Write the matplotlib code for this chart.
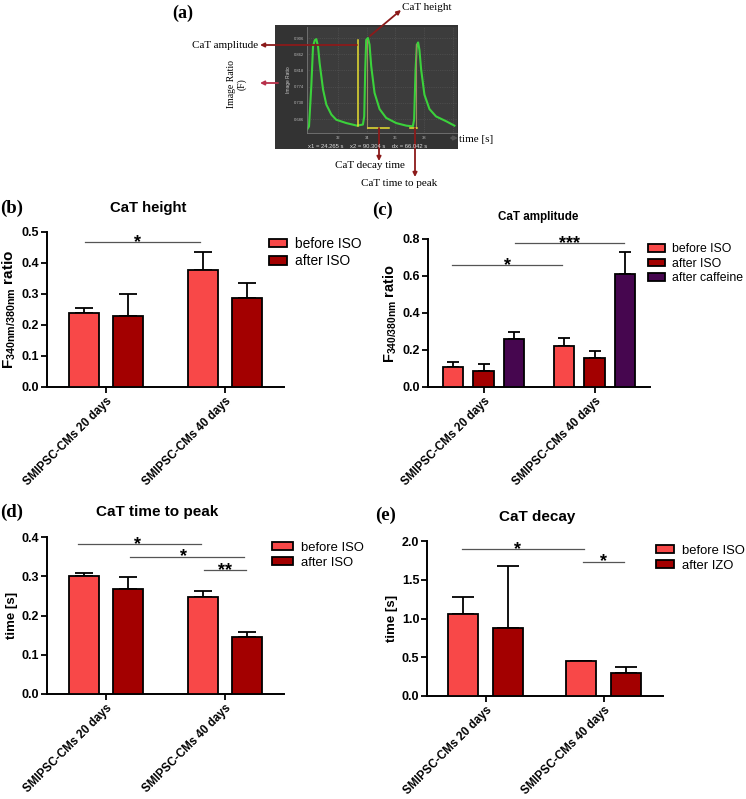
import matplotlib
matplotlib.use('Agg')
import matplotlib.pyplot as plt

plt.rcParams['font.family'] = ['Liberation Sans', 'DejaVu Sans']
plt.rcParams['mathtext.fontset'] = 'custom'
plt.rcParams['mathtext.rm'] = 'Liberation Sans'
plt.rcParams['mathtext.bf'] = 'Liberation Sans:bold'
plt.rcParams['mathtext.it'] = 'Liberation Sans:italic'

# ---------------- data ----------------
groups = ['SMIPSC-CMs 20 days', 'SMIPSC-CMs 40 days']

height_before = [0.239, 0.376]
height_before_err = [0.016, 0.061]
height_after = [0.230, 0.288]
height_after_err = [0.070, 0.049]

amp_before = [0.109, 0.221]
amp_before_err = [0.027, 0.043]
amp_after = [0.085, 0.156]
amp_after_err = [0.038, 0.039]
amp_caffeine = [0.257, 0.612]
amp_caffeine_err = [0.042, 0.119]

ttp_before = [0.300, 0.248]
ttp_before_err = [0.008, 0.014]
ttp_after = [0.268, 0.145]
ttp_after_err = [0.030, 0.012]

decay_before = [1.056, 0.453]
decay_before_err = [0.219, 0.0]
decay_after = [0.880, 0.302]
decay_after_err = [0.794, 0.077]

# calcium transient trace (panel a), time [s] and image ratio
trace_t = [29.84, 29.98, 30.14, 30.26, 30.38, 30.49, 30.61, 30.72, 30.96, 31.19,
           31.54, 31.88, 32.58, 33.32, 33.74, 33.83, 33.90, 33.97, 34.09, 34.20,
           34.32, 34.55, 34.90, 35.36, 36.06, 36.76, 37.22, 37.31, 37.41, 37.50,
           37.59, 37.68, 37.80, 38.03, 38.38, 38.84, 39.54, 40.12]
trace_v = [0.657, 0.666, 0.775, 0.883, 0.900, 0.903, 0.883, 0.838, 0.766, 0.725,
           0.698, 0.684, 0.675, 0.668, 0.671, 0.693, 0.820, 0.901, 0.906, 0.888,
           0.829, 0.757, 0.713, 0.689, 0.675, 0.668, 0.666, 0.684, 0.820, 0.888,
           0.894, 0.874, 0.820, 0.752, 0.713, 0.693, 0.680, 0.668]
trace_yticks = [0.686, 0.730, 0.774, 0.818, 0.862, 0.906]
trace_xticks = [32, 34, 36, 38, 40]

C_BEFORE = '#F84848'
C_AFTER = '#A30000'
C_CAF = '#46064F'

W, H = 746, 799
fig = plt.figure(figsize=(W / 100, H / 100), dpi=100)


def box(x0, y0, x1, y1):
    return [x0 / W, 1 - y1 / H, (x1 - x0) / W, (y1 - y0) / H]


def fpx(x, y):
    return (x, H - y)


# ---------------- panel (a) ----------------
bg = fig.add_axes(box(275, 25, 458, 149))
bg.set_facecolor('#333333')
bg.set_xticks([]); bg.set_yticks([])
for s in bg.spines.values():
    s.set_visible(False)

axa = fig.add_axes(box(307, 27, 457, 133))
axa.set_facecolor('#3c3c3c')
axa.plot(trace_t, trace_v, color='#3BD13B', lw=1.5)
axa.plot([33.37, 33.37], [0.900, 0.666], color='#E8E030', lw=1.1)
axa.plot([34.04, 34.04], [0.900, 0.662], color='#9a8a60', lw=0.8)
axa.plot([37.45, 37.45], [0.890, 0.662], color='#9a8a60', lw=0.8)
axa.plot([34.09, 35.55], [0.662, 0.662], color='#E8E030', lw=1.1)
axa.plot([36.99, 37.52], [0.662, 0.662], color='#E8E030', lw=1.1)
axa.set_xlim(29.84, 40.3)
axa.set_ylim(0.648, 0.936)
axa.set_xticks(trace_xticks)
axa.set_yticks(trace_yticks)
axa.set_xticklabels([str(t) for t in trace_xticks])
axa.set_yticklabels([f'{t:.3f}' for t in trace_yticks])
axa.tick_params(length=0, labelsize=3, labelcolor='#bbbbbb', pad=2)
axa.grid(True, color='#5a5a5a', lw=0.5, ls=':')
for s in axa.spines.values():
    s.set_color('#777777'); s.set_linewidth(0.6)
axa.spines['top'].set_visible(False)
axa.spines['right'].set_visible(False)
axa.set_ylabel('Image Ratio', fontsize=3.5, color='#cccccc', labelpad=2)
fig.text(308 / W, 1 - 146 / H, 'x1 = 24.265 s    x2 = 90.304 s    dx = 66.042 s',
         fontsize=4.2, color='#dddddd', va='center')

serif = ['Liberation Serif', 'DejaVu Serif']
fig.text(172 / W, 1 - 13 / H, '(a)', family=serif, fontsize=13, fontweight='bold', va='center')
fig.text(402 / W, 1 - 8 / H, 'CaT height', family=serif, fontsize=8, va='center')
fig.text(258 / W, 1 - 45 / H, 'CaT amplitude', family=serif, fontsize=8, va='center', ha='right')
fig.text(237 / W, 1 - 84 / H, 'Image Ratio\n(F)', family=serif, fontsize=7, va='center',
         ha='center', rotation=90, multialignment='center')
fig.text(459 / W, 1 - 139 / H, 'time [s]', family=serif, fontsize=8, va='center')
fig.text(370 / W, 1 - 166 / H, 'CaT decay time', family=serif, fontsize=8, va='center', ha='center')
fig.text(399 / W, 1 - 184 / H, 'CaT time to peak', family=serif, fontsize=8, va='center', ha='center')

arrows = [((357, 45), (260, 45), '#8B1A1A'),
          ((370, 36), (401, 10), '#8B1A1A'),
          ((278, 83), (260, 83), '#B8304A'),
          ((379, 128), (379, 161), '#8B1A1A'),
          ((415, 128), (415, 177), '#8B1A1A'),
          ((451, 138), (458, 138), '#555555')]
for tail, head, col in arrows:
    fig.add_artist(matplotlib.patches.FancyArrowPatch(
        posA=fpx(*tail), posB=fpx(*head), transform=None,
        arrowstyle='-|>', mutation_scale=6, color=col, lw=1.3,
        shrinkA=0, shrinkB=0))


# ---------------- bar panels ----------------
def bar_panel(rect, series, errs, colors, labels, offsets, width, ylim, yticks,
              ylabel, ylabel_size, legend_anchor, leg_size, leg_hl, leg_hh, leg_sp, cap):
    ax = fig.add_axes(box(*rect))
    for vals, er, col, lab, off in zip(series, errs, colors, labels, offsets):
        xs = [g + off for g in range(len(groups))]
        ax.bar(xs, vals, width, color=col, edgecolor='black', linewidth=1.3,
               label=lab, zorder=3)
        ax.errorbar(xs, vals, yerr=[[0] * len(er), er], fmt='none', ecolor='black',
                    elinewidth=1.3, capsize=cap, capthick=1.3, zorder=2)
    ax.set_xlim(-0.5, 1.5)
    ax.set_ylim(*ylim)
    ax.set_yticks(yticks)
    ax.set_yticklabels([f'{t:.1f}' for t in yticks], fontweight='bold', fontsize=9)
    ax.set_xticks(range(len(groups)))
    ax.set_xticklabels(groups, rotation=45, ha='right', va='top', rotation_mode='anchor',
                       fontweight='bold', fontsize=8.4)
    for sp in ['top', 'right']:
        ax.spines[sp].set_visible(False)
    for sp in ['left', 'bottom']:
        ax.spines[sp].set_linewidth(1.4)
    ax.tick_params(width=1.3, length=4, pad=1.5)
    ax.set_ylabel(ylabel, fontweight='bold', fontsize=ylabel_size, labelpad=3)
    ax.legend(loc='upper left', bbox_to_anchor=legend_anchor, frameon=False,
              fontsize=leg_size, handlelength=leg_hl, handleheight=leg_hh,
              handletextpad=0.6, labelspacing=leg_sp, borderpad=0, borderaxespad=0)
    return ax


def sig(ax, x1, x2, y, txt, tx=None):
    ax.plot([x1, x2], [y, y], color='#555555', lw=0.9, zorder=1, clip_on=False)
    if tx is None:
        tx = (x1 + x2) / 2
    ax.annotate(txt, xy=(tx, y), xytext=(0, -3.5), textcoords='offset points',
                ha='center', va='baseline', fontsize=13, fontweight='bold',
                annotation_clip=False)


# (b)
axb = bar_panel((47, 232, 284, 387), [height_before, height_after],
                [height_before_err, height_after_err], [C_BEFORE, C_AFTER],
                ['before ISO', 'after ISO'], [-0.186, 0.186], 0.254,
                (0, 0.5), [0.0, 0.1, 0.2, 0.3, 0.4, 0.5],
                r'$\mathbf{F_{340nm/380nm}}$ ratio', 11, (0.937, 0.97),
                9.9, 1.3, 0.58, 0.25, 6.5)
sig(axb, -0.178, 0.788, 0.468, '*', 0.263)

# (c)
axc = bar_panel((428, 239, 650, 387), [amp_before, amp_after, amp_caffeine],
                [amp_before_err, amp_after_err, amp_caffeine_err],
                [C_BEFORE, C_AFTER, C_CAF], ['before ISO', 'after ISO', 'after caffeine'],
                [-0.275, 0.0, 0.275], 0.185, (0, 0.8), [0.0, 0.2, 0.4, 0.6, 0.8],
                r'$\mathbf{F_{340/380nm}}$ ratio', 10.5, (0.99, 0.97),
                8.8, 1.4, 0.57, 0.2, 4.5)
sig(axc, -0.28, 0.71, 0.657, '*')
sig(axc, 0.28, 1.27, 0.778, '***')

# (d)
axd = bar_panel((47, 537, 284, 694), [ttp_before, ttp_after],
                [ttp_before_err, ttp_after_err], [C_BEFORE, C_AFTER],
                ['before ISO', 'after ISO'], [-0.186, 0.186], 0.254,
                (0, 0.4), [0.0, 0.1, 0.2, 0.3, 0.4], 'time [s]', 9.5, (0.949, 0.97),
                9.4, 1.6, 0.6, 0.23, 6.5)
sig(axd, -0.237, 0.797, 0.382, '*', 0.263)
sig(axd, 0.203, 1.161, 0.350, '*', 0.653)
sig(axd, 0.822, 1.178, 0.315, '**', 1.0)

# (e)
axe = bar_panel((427, 541, 663, 696), [decay_before, decay_after],
                [decay_before_err, decay_after_err], [C_BEFORE, C_AFTER],
                ['before ISO', 'after IZO'], [-0.194, 0.185], 0.25,
                (0, 2.0), [0.0, 0.5, 1.0, 1.5, 2.0], 'time [s]', 9.5, (0.97, 0.975),
                9.4, 1.4, 0.6, 0.23, 8)
sig(axe, -0.207, 0.828, 1.893, '*', 0.267)
sig(axe, 0.819, 1.172, 1.734, '*', 1.0)

# titles & panel letters
titles = [('CaT height', 148, 208, 10.7), ('CaT amplitude', 538, 217, 8.4),
          ('CaT time to peak', 157, 512, 11), ('CaT decay', 537, 517, 11)]
for t, x, y, fs in titles:
    fig.text(x / W, 1 - y / H, t, fontsize=fs, fontweight='bold', ha='center', va='center')
letters = [('(b)', 0, 208), ('(c)', 372, 210), ('(d)', 0, 512), ('(e)', 375, 515)]
for t, x, y in letters:
    fig.text(x / W, 1 - y / H, t, family=serif, fontsize=13.5, fontweight='bold',
             ha='left', va='center')

fig.savefig('out.png', dpi=100)
